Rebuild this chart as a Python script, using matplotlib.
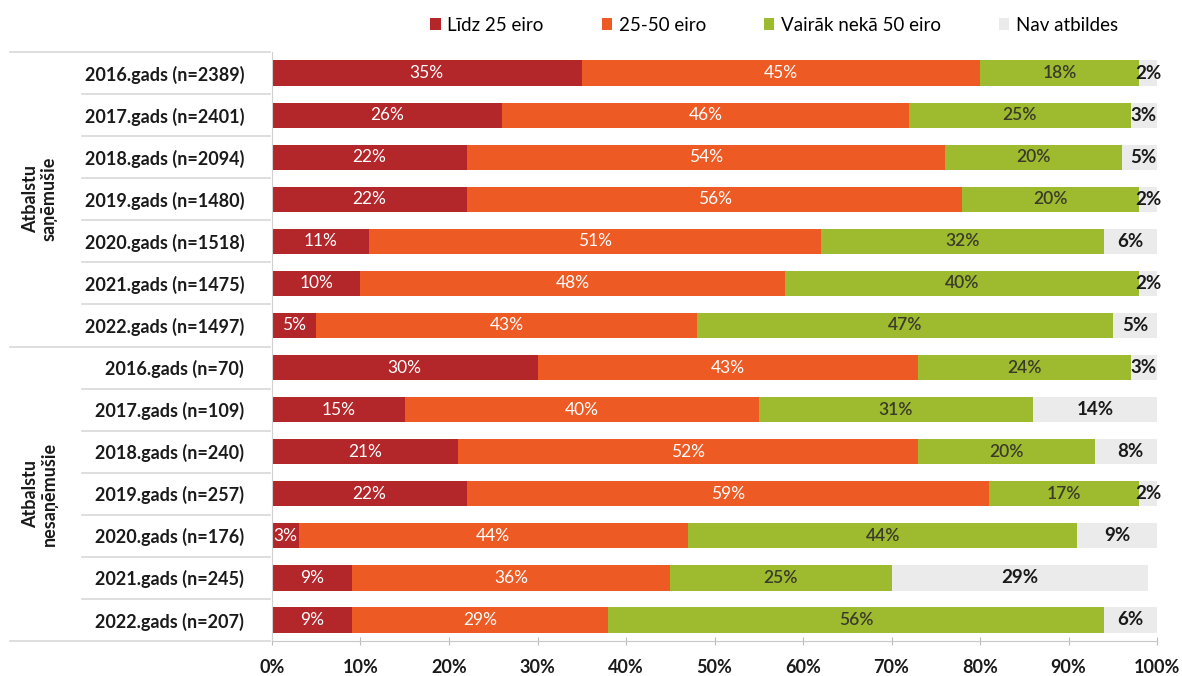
import matplotlib.pyplot as plt
from matplotlib.transforms import blended_transform_factory

plt.rcParams['font.family'] = ['Lato', 'DejaVu Sans']

# kategorijas (no augšas uz leju)
labels = ['2016.gads (n=2389)', '2017.gads (n=2401)', '2018.gads (n=2094)',
          '2019.gads (n=1480)', '2020.gads (n=1518)', '2021.gads (n=1475)',
          '2022.gads (n=1497)',
          '2016.gads (n=70)', '2017.gads (n=109)', '2018.gads (n=240)',
          '2019.gads (n=257)', '2020.gads (n=176)', '2021.gads (n=245)',
          '2022.gads (n=207)']

lidz25 = [35, 26, 22, 22, 11, 10, 5, 30, 15, 21, 22, 3, 9, 9]
no25lidz50 = [45, 46, 54, 56, 51, 48, 43, 43, 40, 52, 59, 44, 36, 29]
virs50 = [18, 25, 20, 20, 32, 40, 47, 24, 31, 20, 17, 44, 25, 56]
nav = [2, 3, 5, 2, 6, 2, 5, 3, 14, 8, 2, 9, 29, 6]

series_names = ['Līdz 25 eiro', '25-50 eiro', 'Vairāk nekā 50 eiro', 'Nav atbildes']
groups = ['Atbalstu\nsaņēmušie', 'Atbalstu\nnesaņēmušie']

colors = ['#B3262A', '#EE5A24', '#9EBB2F', '#EBEBEB']
text_colors = ['white', 'white', '#3a3a2a', '#1a1a1a']
text_weights = ['normal', 'normal', 'semibold', 'bold']
text_sizes = [12.5, 12.5, 12.5, 13.5]

fig = plt.figure(figsize=(11.82, 6.76), dpi=100)
ax = fig.add_axes([0.2301, 0.0518, 0.7488, 0.8712])

y = list(range(len(labels)))
left = [0] * len(labels)
for k, vals in enumerate([lidz25, no25lidz50, virs50, nav]):
    ax.barh(y, vals, left=left, height=0.6, color=colors[k], label=series_names[k])
    for i, v in enumerate(vals):
        cx = left[i] + v / 2
        ax.text(cx, i, f'{v}%', ha='center', va='center', color=text_colors[k],
                fontsize=text_sizes[k], fontweight=text_weights[k])
    left = [l + v for l, v in zip(left, vals)]

ax.set_xlim(0, 100)
ax.set_ylim(13.5, -0.5)
ax.set_yticks(y)
ax.set_yticklabels(labels, fontsize=13, fontweight='bold', color='#1a1a1a')
ax.set_xticks(range(0, 101, 10))
ax.set_xticklabels([f'{t}%' for t in range(0, 101, 10)], fontsize=13,
                   fontweight='bold', color='#1a1a1a')
ax.tick_params(axis='y', length=0, pad=20)
ax.tick_params(axis='x', direction='inout', length=6, color='#bbbbbb', pad=10)
for s in ['top', 'right']:
    ax.spines[s].set_visible(False)
ax.spines['left'].set_color('#d0d0d0')
ax.spines['bottom'].set_color('#c8c8c8')

# atdalītājlīnijas kategoriju zonā
tr = blended_transform_factory(fig.transFigure, ax.transData)
for b in [i + 0.5 for i in range(-1, 14)]:
    x0 = 10 / 1182 if b in (-0.5, 6.5, 13.5) else 82 / 1182
    ax.plot([x0, 270 / 1182], [b, b], transform=tr, color='#d8d8d8', lw=1.2,
            clip_on=False)

ax.text(40 / 1182, 3, groups[0], transform=tr, rotation=90, ha='center',
        va='center', fontsize=13, fontweight='bold', color='#1a1a1a',
        multialignment='center', linespacing=1.1)
ax.text(40 / 1182, 10, groups[1], transform=tr, rotation=90, ha='center',
        va='center', fontsize=13, fontweight='bold', color='#1a1a1a',
        multialignment='center', linespacing=1.1)

fig.legend(loc='center', bbox_to_anchor=(0.655, 0.963), ncol=4, frameon=False,
           fontsize=13.5, handlelength=0.55, handleheight=0.55, columnspacing=3.1,
           handletextpad=0.35)

plt.savefig('out.png', dpi=100)
